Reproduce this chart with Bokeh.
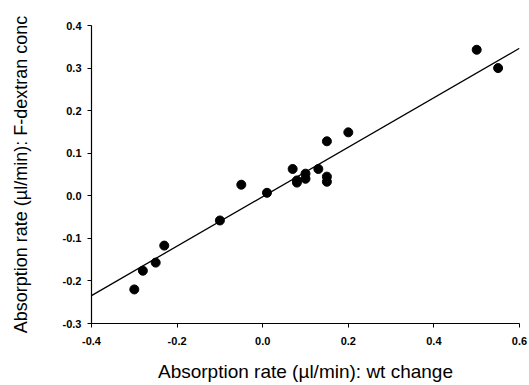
from bokeh.plotting import figure
from bokeh.models import FixedTicker
from bokeh.embed import file_html
from bokeh.resources import INLINE

# data
x_wt = [-0.30, -0.28, -0.25, -0.23, -0.10, -0.05, 0.01, 0.07, 0.08, 0.08,
        0.10, 0.10, 0.13, 0.15, 0.15, 0.15, 0.20, 0.50, 0.55]
y_fd = [-0.220, -0.176, -0.157, -0.117, -0.058, 0.026, 0.007, 0.063, 0.036, 0.031,
        0.052, 0.040, 0.063, 0.128, 0.045, 0.033, 0.149, 0.343, 0.300]
fit_slope = 0.581
fit_intercept = -0.002
fit_x = [-0.4, 0.6]
x_ticks = [-0.4, -0.2, 0.0, 0.2, 0.4, 0.6]
y_ticks = [-0.3, -0.2, -0.1, 0.0, 0.1, 0.2, 0.3, 0.4]

FONT = "Liberation Sans"

p = figure(width=529, height=385, output_backend="svg", toolbar_location=None,
           x_range=(-0.4, 0.6), y_range=(-0.3, 0.4),
           min_border_left=91, min_border_right=10, min_border_top=25, min_border_bottom=62)
p.outline_line_color = None
p.grid.visible = False
p.background_fill_color = "white"

fit_y = [fit_slope * v + fit_intercept for v in fit_x]
p.line(fit_x, fit_y, line_color="black", line_width=1.3)
p.scatter(x_wt, y_fd, size=9, marker="circle", fill_color="black", line_color="black")

for ax in (p.xaxis, p.yaxis):
    ax.major_label_text_font = FONT
    ax.major_label_text_font_style = "bold"
    ax.major_label_text_font_size = "11px"
    ax.major_label_text_color = "black"
    ax.axis_line_color = "black"
    ax.axis_line_width = 1.2
    ax.major_tick_line_color = "black"
    ax.major_tick_out = 4
    ax.major_tick_in = 0
    ax.minor_tick_line_color = None
    ax.axis_label_text_font = FONT
    ax.axis_label_text_font_style = "normal"
    ax.axis_label_text_color = "black"

p.xaxis.ticker = FixedTicker(ticks=x_ticks)
p.yaxis.ticker = FixedTicker(ticks=y_ticks)
p.xaxis.major_label_overrides = {v: f"{v:.1f}" for v in x_ticks}
p.yaxis.major_label_overrides = {v: f"{v:.1f}" for v in y_ticks}
p.xaxis.major_label_standoff = 9
p.yaxis.major_label_standoff = 6

p.xaxis.axis_label = "Absorption rate (\u00b5l/min): wt change"
p.xaxis.axis_label_text_font_size = "19px"
p.xaxis.axis_label_standoff = 13
p.yaxis.axis_label = "Absorption rate (\u00b5l/min): F-dextran conc"
p.yaxis.axis_label_text_font_size = "18px"
p.yaxis.axis_label_standoff = 29

open("out.html", "w").write(file_html(p, INLINE))
